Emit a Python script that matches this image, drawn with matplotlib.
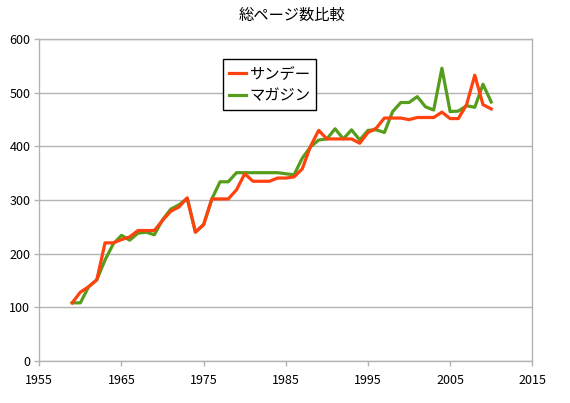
import numpy as np
import matplotlib
matplotlib.use('Agg')
import matplotlib.pyplot as plt

plt.rcParams['font.family'] = ['Noto Sans CJK JP', 'DejaVu Sans']

# 年ごとの総ページ数
years = list(range(1959, 2011))
sunday = [108, 128, 138, 151, 220, 220, 226, 231, 243, 243,
          243, 262, 279, 287, 304, 240, 254, 302, 302, 302,
          319, 349, 335, 335, 335, 341, 341, 343, 358, 400,
          430, 414, 414, 414, 414, 406, 426, 434, 453, 453,
          453, 450, 454, 454, 454, 464, 452, 452, 478, 533,
          478, 470]
magazine = [108, 108, 138, 151, 188, 218, 234, 225, 238, 240,
            235, 263, 283, 291, 303, 240, 254, 302, 334, 334,
            351, 351, 351, 351, 351, 351, 349, 347, 378, 399,
            412, 414, 433, 414, 431, 412, 430, 431, 426, 465,
            482, 482, 493, 474, 468, 546, 465, 466, 476, 473,
            516, 483]
series_names = ['サンデー', 'マガジン']
title = '総ページ数比較'
xticks = [1955, 1965, 1975, 1985, 1995, 2005, 2015]
yticks = [0, 100, 200, 300, 400, 500, 600]

W, H = 570, 403
fig = plt.figure(figsize=(W/100, H/100), dpi=100)
ax = fig.add_axes([39.3/W, 1-360.7/H, (532.3-39.3)/W, (360.7-39.3)/H])

grid_col = '#b3b3b3'
l2, = ax.plot(years, magazine, color='#579d1c', lw=2.3, zorder=3, label=series_names[1])
l1, = ax.plot(years, sunday, color='#ff420e', lw=2.3, zorder=4, label=series_names[0])

ax.set_xlim(1955, 2015)
ax.set_ylim(0, 600)
ax.set_xticks(xticks)
ax.set_yticks(yticks)
ax.yaxis.grid(True, color=grid_col, lw=1)
ax.set_axisbelow(True)
for s in ax.spines.values():
    s.set_color(grid_col)
    s.set_linewidth(1)
ax.tick_params(axis='both', colors=grid_col, labelcolor='black', labelsize=9, length=3.5, width=1)
ax.tick_params(axis='x', pad=6)
ax.tick_params(axis='y', pad=3)

leg = fig.legend(handles=[l1, l2], loc='upper left', bbox_to_anchor=(223.3/W, 1-59.3/H),
                 bbox_transform=fig.transFigure, borderaxespad=0, fancybox=False,
                 edgecolor='black', fontsize=11, handlelength=1.1, handletextpad=0.2,
                 borderpad=0.4, labelspacing=0.3, framealpha=1)
leg.get_frame().set_linewidth(1)

fig.text(292/W, 1-15/H, title, ha='center', va='center', fontsize=11)

fig.savefig('out.png', dpi=100, facecolor='white')
